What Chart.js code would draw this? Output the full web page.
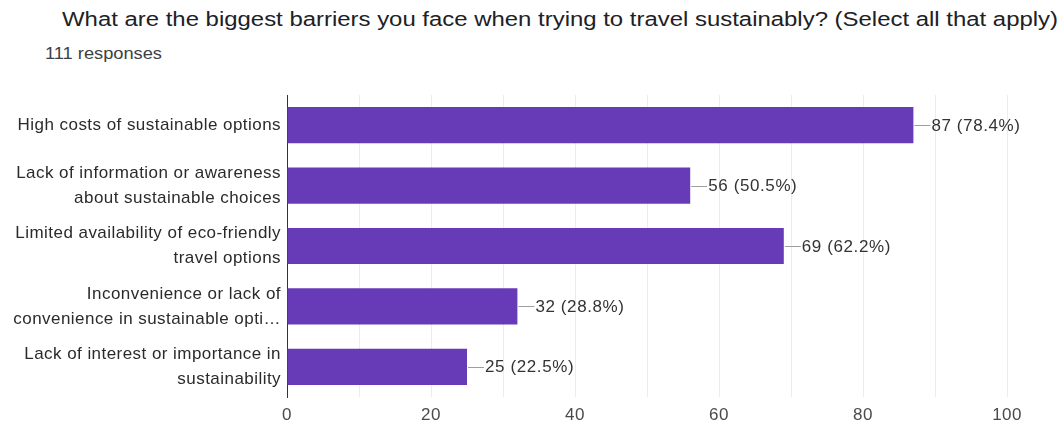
<!DOCTYPE html>
<html>
<head>
<meta charset="utf-8">
<script src="https://cdn.jsdelivr.net/npm/chart.js@4/dist/chart.umd.min.js"></script>
<style>
  html, body { margin: 0; padding: 0; background: #fff; }
  body { width: 1064px; height: 428px; position: relative; overflow: hidden; font-family: "Liberation Sans", Arial, sans-serif; }
  #title { position: absolute; left: 62px; top: 8px; font-size: 20px; color: #202124; white-space: nowrap; transform-origin: 0 0; }
  #sub { position: absolute; left: 45px; top: 45px; font-size: 16px; color: #3c4043; white-space: nowrap; transform-origin: 0 0; }
  #c { position: absolute; left: 0; top: 0; }
</style>
</head>
<body>
<div id="title">What are the biggest barriers you face when trying to travel sustainably? (Select all that apply)</div>
<div id="sub">111 responses</div>
<canvas id="c" width="1064" height="428"></canvas>
<script>
const categories = [
  ["High costs of sustainable options"],
  ["Lack of information or awareness", "about sustainable choices"],
  ["Limited availability of eco-friendly", "travel options"],
  ["Inconvenience or lack of", "convenience in sustainable opti\u2026"],
  ["Lack of interest or importance in", "sustainability"]
];
const counts = [87, 56, 69, 32, 25];
const percents = ["78.4%", "50.5%", "62.2%", "28.8%", "22.5%"];
const xTicks = [0, 20, 40, 60, 80, 100];

const barColor = "#673ab7";
const fontFamily = "'Liberation Sans', Arial, sans-serif";

// Stretch the header lines to their set widths
function fitWidth(id, w) {
  const el = document.getElementById(id);
  el.style.transform = "scaleX(" + (w / el.getBoundingClientRect().width) + ")";
}
fitWidth("title", 996);
fitWidth("sub", 117);

// Slightly open letter spacing for all canvas text
const textSpacing = {
  id: "textSpacing",
  beforeDraw(chart) { chart.ctx.letterSpacing = "0.45px"; }
};

// Draws the "count (percent)" label with a short leader line at each bar's end
const valueLabels = {
  id: "valueLabels",
  afterDatasetsDraw(chart) {
    const ctx = chart.ctx;
    const meta = chart.getDatasetMeta(0);
    ctx.save();
    ctx.letterSpacing = "0.6px";
    ctx.font = "17px " + fontFamily;
    ctx.textBaseline = "middle";
    ctx.textAlign = "left";
    meta.data.forEach((bar, i) => {
      const x = bar.x, y = bar.y;
      ctx.strokeStyle = "#9e9e9e";
      ctx.lineWidth = 1;
      ctx.beginPath();
      ctx.moveTo(x + 1, Math.round(y) + 0.5);
      ctx.lineTo(x + 17, Math.round(y) + 0.5);
      ctx.stroke();
      ctx.fillStyle = "#333333";
      ctx.fillText(counts[i] + " (" + percents[i] + ")", x + 18, y + 1);
    });
    ctx.restore();
  }
};

new Chart(document.getElementById("c"), {
  type: "bar",
  data: {
    labels: categories,
    datasets: [{
      data: counts,
      backgroundColor: barColor,
      borderWidth: 0,
      barPercentage: 0.6,
      categoryPercentage: 1.0
    }]
  },
  options: {
    indexAxis: "y",
    responsive: false,
    animation: false,
    devicePixelRatio: 1,
    layout: { padding: { top: 95, right: 57, left: 0, bottom: 0 } },
    plugins: { legend: { display: false }, tooltip: { enabled: false }, title: { display: false } },
    scales: {
      x: {
        min: 0, max: 100,
        afterBuildTicks(scale) {
          const t = [];
          for (let v = 0; v <= 100; v += 10) t.push({ value: v });
          scale.ticks = t;
        },
        afterFit(scale) { scale.height = 31; },
        ticks: {
          autoSkip: false,
          maxRotation: 0,
          padding: 8,
          color: "#4a4a4a",
          font: { family: fontFamily, size: 17 },
          callback: (v) => xTicks.includes(v) ? String(v) : ""
        },
        grid: { color: "#ececec", lineWidth: 1, drawTicks: false },
        border: { display: false }
      },
      y: {
        afterFit(scale) { scale.width = 287; },
        ticks: {
          padding: 6,
          color: "#2b2b2b",
          font: { family: fontFamily, size: 17, lineHeight: 1.47 }
        },
        grid: { display: false, drawTicks: false },
        border: { display: true, color: "#333333", width: 1 }
      }
    }
  },
  plugins: [textSpacing, valueLabels]
});
</script>
</body>
</html>
